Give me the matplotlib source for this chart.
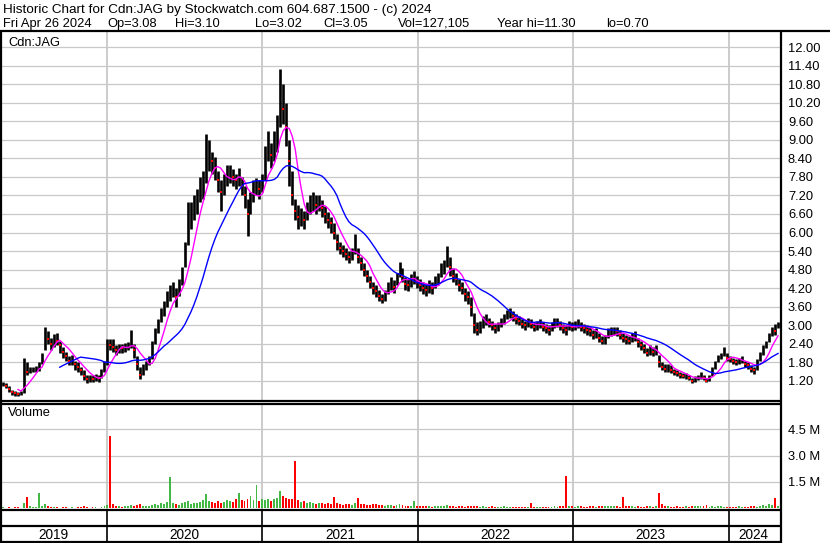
import matplotlib
matplotlib.use("Agg")
import matplotlib.pyplot as plt
import matplotlib.dates as mdates
import numpy as np
import pandas as pd

plt.rcParams['font.family'] = ['Liberation Sans', 'DejaVu Sans']

# weekly closes / highs / lows (Cdn:JAG, Apr 2019 - Apr 2024)
close = [1.10, 1.05, 0.95, 0.85, 0.80, 0.78, 0.80, 1.60, 1.50, 1.55,
         1.55, 1.58, 1.70, 1.95, 2.70, 2.55, 2.40, 2.60, 2.50, 2.35,
         2.15, 2.00, 1.85, 1.90, 1.75, 1.65, 1.55, 1.35, 1.25, 1.30,
         1.25, 1.30, 1.28, 1.45, 1.70, 2.45, 2.35, 2.30, 2.20, 2.30,
         2.25, 2.30, 2.35, 2.60, 2.20, 1.75, 1.40, 1.60, 1.70, 1.85,
         2.30, 2.70, 3.00, 3.40, 3.60, 3.90, 4.10, 4.20, 3.90, 4.20,
         4.60, 5.30, 6.30, 6.60, 6.80, 7.00, 7.40, 7.60, 8.40, 8.70,
         8.30, 8.10, 7.70, 7.30, 7.60, 7.90, 8.00, 7.80, 7.70, 7.80,
         7.50, 7.20, 6.60, 7.00, 7.40, 7.50, 7.40, 7.60, 8.40, 8.80,
         8.50, 8.70, 9.20, 10.60, 10.00, 9.40, 8.30, 7.20, 6.70, 6.50,
         6.50, 6.40, 6.70, 6.90, 7.00, 6.90, 7.00, 6.80, 6.60, 6.40,
         6.30, 6.00, 5.70, 5.50, 5.40, 5.30, 5.20, 5.30, 5.60, 5.20,
         5.00, 4.80, 4.60, 4.40, 4.20, 4.10, 3.95, 3.85, 4.00, 4.20,
         4.35, 4.25, 4.50, 4.85, 4.60, 4.35, 4.30, 4.45, 4.55, 4.40,
         4.30, 4.20, 4.15, 4.25, 4.20, 4.40, 4.50, 4.80, 4.90, 5.20,
         4.90, 4.60, 4.50, 4.30, 4.20, 4.00, 3.90, 3.60, 3.00, 2.85,
         2.95, 3.10, 3.20, 3.10, 3.00, 2.90, 2.95, 3.10, 3.20, 3.35,
         3.40, 3.30, 3.20, 3.15, 3.05, 3.00, 3.10, 3.05, 2.95, 3.00,
         3.05, 2.95, 2.90, 2.85, 2.95, 3.05, 3.10, 3.00, 2.90, 2.85,
         3.00, 2.95, 3.00, 3.05, 2.95, 2.90, 2.85, 2.80, 2.70, 2.75,
         2.60, 2.50, 2.55, 2.75, 2.80, 2.85, 2.80, 2.70, 2.60, 2.55,
         2.50, 2.60, 2.65, 2.45, 2.35, 2.25, 2.10, 2.20, 2.15, 2.25,
         1.80, 1.65, 1.60, 1.65, 1.55, 1.50, 1.45, 1.40, 1.35, 1.35,
         1.30, 1.20, 1.25, 1.30, 1.35, 1.30, 1.20, 1.30, 1.55, 1.75,
         1.95, 2.00, 2.15, 1.95, 1.90, 1.85, 1.80, 1.85, 1.90, 1.75,
         1.70, 1.60, 1.55, 1.75, 2.05, 2.20, 2.40, 2.65, 2.85, 2.80,
         3.05]

high = [1.15, 1.12, 1.02, 0.92, 0.86, 0.84, 0.88, 1.95, 1.80, 1.65,
        1.65, 1.68, 1.80, 2.10, 2.95, 2.80, 2.60, 2.72, 2.75, 2.50,
        2.30, 2.15, 2.00, 2.05, 1.85, 1.80, 1.65, 1.55, 1.38, 1.40,
        1.38, 1.42, 1.38, 1.60, 1.85, 2.55, 2.55, 2.55, 2.35, 2.40,
        2.38, 2.42, 2.45, 2.85, 2.40, 2.00, 1.65, 1.75, 1.85, 2.00,
        2.50, 2.90, 3.20, 3.55, 3.80, 4.10, 4.30, 4.40, 4.20, 4.50,
        4.90, 5.70, 7.00, 7.00, 7.20, 7.40, 7.80, 8.00, 9.20, 9.00,
        8.60, 8.45, 8.00, 7.70, 7.90, 8.20, 8.20, 8.05, 7.90, 8.10,
        7.80, 7.50, 7.10, 7.30, 7.70, 7.75, 7.70, 7.90, 8.80, 9.30,
        8.90, 9.30, 9.80, 11.30, 10.80, 10.20, 9.00, 8.00, 7.10, 6.90,
        6.80, 6.70, 7.00, 7.20, 7.30, 7.20, 7.20, 7.05, 6.85, 6.65,
        6.50, 6.30, 5.95, 5.70, 5.60, 5.50, 5.40, 5.50, 5.95, 5.50,
        5.20, 5.00, 4.80, 4.60, 4.40, 4.30, 4.15, 4.00, 4.15, 4.40,
        4.55, 4.45, 4.70, 5.05, 4.85, 4.55, 4.50, 4.65, 4.75, 4.60,
        4.50, 4.40, 4.35, 4.45, 4.40, 4.60, 4.70, 5.00, 5.10, 5.55,
        5.20, 4.85, 4.70, 4.50, 4.40, 4.20, 4.10, 3.90, 3.40, 3.10,
        3.15, 3.30, 3.35, 3.25, 3.15, 3.05, 3.10, 3.25, 3.35, 3.50,
        3.55, 3.45, 3.35, 3.30, 3.20, 3.15, 3.25, 3.20, 3.10, 3.15,
        3.20, 3.10, 3.05, 3.00, 3.10, 3.25, 3.25, 3.15, 3.05, 3.00,
        3.15, 3.10, 3.15, 3.20, 3.10, 3.05, 3.00, 2.95, 2.85, 2.90,
        2.75, 2.65, 2.70, 2.90, 2.95, 2.95, 2.95, 2.85, 2.75, 2.70,
        2.65, 2.75, 2.80, 2.60, 2.50, 2.40, 2.25, 2.35, 2.30, 2.35,
        2.05, 1.80, 1.75, 1.75, 1.70, 1.60, 1.55, 1.50, 1.45, 1.45,
        1.40, 1.30, 1.35, 1.40, 1.50, 1.40, 1.30, 1.40, 1.65, 1.85,
        2.05, 2.10, 2.30, 2.10, 2.00, 1.95, 1.90, 1.95, 2.00, 1.85,
        1.80, 1.70, 1.65, 1.90, 2.15, 2.35, 2.50, 2.75, 2.95, 3.05,
        3.12]

low = [1.02, 0.98, 0.85, 0.76, 0.72, 0.70, 0.74, 0.82, 1.40, 1.45,
       1.48, 1.50, 1.52, 1.75, 2.20, 2.40, 2.20, 2.30, 2.35, 2.10,
       1.95, 1.85, 1.70, 1.72, 1.55, 1.50, 1.40, 1.22, 1.12, 1.15,
       1.15, 1.20, 1.18, 1.30, 1.50, 1.70, 2.20, 2.15, 2.05, 2.10,
       2.10, 2.15, 2.20, 2.25, 1.95, 1.55, 1.25, 1.40, 1.55, 1.70,
       1.90, 2.40, 2.75, 3.10, 3.30, 3.60, 3.80, 3.90, 3.60, 3.95,
       4.30, 4.90, 5.60, 6.10, 6.40, 6.60, 7.00, 7.10, 7.60, 8.00,
       7.90, 7.70, 7.30, 6.70, 7.20, 7.50, 7.60, 7.50, 7.40, 7.50,
       7.20, 6.80, 5.90, 6.60, 7.00, 7.20, 7.10, 7.30, 7.70, 8.30,
       8.10, 8.30, 8.60, 9.40, 9.50, 8.80, 7.50, 6.90, 6.40, 6.10,
       6.20, 6.10, 6.40, 6.60, 6.70, 6.60, 6.70, 6.50, 6.30, 6.15,
       6.00, 5.80, 5.45, 5.30, 5.20, 5.10, 5.00, 5.10, 5.30, 5.00,
       4.80, 4.60, 4.40, 4.20, 4.00, 3.90, 3.80, 3.72, 3.80, 4.00,
       4.15, 4.05, 4.30, 4.55, 4.40, 4.15, 4.10, 4.25, 4.35, 4.20,
       4.10, 4.00, 3.95, 4.05, 4.00, 4.20, 4.30, 4.55, 4.65, 4.90,
       4.60, 4.40, 4.30, 4.10, 4.00, 3.80, 3.70, 3.30, 2.75, 2.70,
       2.75, 2.90, 3.00, 2.95, 2.85, 2.75, 2.80, 2.95, 3.05, 3.20,
       3.25, 3.15, 3.05, 3.00, 2.90, 2.85, 2.95, 2.90, 2.80, 2.85,
       2.90, 2.80, 2.75, 2.70, 2.80, 2.90, 2.95, 2.85, 2.75, 2.70,
       2.85, 2.80, 2.85, 2.90, 2.80, 2.75, 2.70, 2.65, 2.55, 2.60,
       2.45, 2.40, 2.40, 2.60, 2.65, 2.70, 2.65, 2.55, 2.45, 2.40,
       2.40, 2.45, 2.50, 2.30, 2.20, 2.10, 2.00, 2.05, 2.00, 2.05,
       1.65, 1.55, 1.50, 1.50, 1.45, 1.40, 1.35, 1.30, 1.28, 1.25,
       1.22, 1.12, 1.18, 1.22, 1.25, 1.22, 1.15, 1.20, 1.35, 1.60,
       1.80, 1.90, 2.00, 1.85, 1.80, 1.75, 1.70, 1.75, 1.78, 1.65,
       1.60, 1.50, 1.42, 1.55, 1.85, 2.05, 2.25, 2.45, 2.65, 2.70,
       2.90]

# visible daily volume peak per week, millions
volume = [0.06, 0.04, 0.05, 0.03, 0.08, 0.05, 0.04, 0.30, 0.64, 0.12,
          0.06, 0.08, 0.87, 0.15, 0.25, 0.10, 0.06, 0.05, 0.08, 0.04,
          0.05, 0.06, 0.04, 0.05, 0.03, 0.06, 0.08, 0.12, 0.05, 0.04,
          0.06, 0.05, 0.04, 0.08, 0.10, 0.20, 4.10, 0.25, 0.15, 0.10,
          0.08, 0.12, 0.10, 0.20, 0.15, 0.18, 0.22, 0.12, 0.15, 0.10,
          0.20, 0.25, 0.18, 0.30, 0.22, 0.35, 1.80, 0.30, 0.25, 0.20,
          0.30, 0.35, 0.40, 0.25, 0.30, 0.28, 0.35, 0.45, 0.80, 0.40,
          0.35, 0.30, 0.40, 0.30, 0.35, 0.45, 0.40, 0.35, 0.50, 0.87,
          0.45, 0.40, 0.55, 0.68, 0.45, 1.33, 0.40, 0.50, 0.45, 0.55,
          0.40, 0.50, 0.60, 0.97, 0.70, 0.60, 0.55, 0.50, 2.67, 0.45,
          0.35, 0.40, 0.30, 0.35, 0.30, 0.25, 0.30, 0.28, 0.25, 0.30,
          0.25, 0.64, 0.30, 0.25, 0.20, 0.22, 0.25, 0.20, 0.30, 0.58,
          0.22, 0.25, 0.20, 0.18, 0.22, 0.25, 0.20, 0.18, 0.15, 0.20,
          0.18, 0.15, 0.20, 0.22, 0.18, 0.15, 0.12, 0.15, 0.40, 0.15,
          0.12, 0.10, 0.12, 0.10, 0.08, 0.12, 0.10, 0.15, 0.12, 0.18,
          0.12, 0.10, 0.08, 0.10, 0.12, 0.08, 0.10, 0.12, 0.15, 0.10,
          0.08, 0.10, 0.07, 0.08, 0.10, 0.06, 0.08, 0.07, 0.10, 0.06,
          0.08, 0.07, 0.06, 0.05, 0.08, 0.06, 0.07, 0.30, 0.08, 0.06,
          0.07, 0.05, 0.08, 0.06, 0.07, 0.10, 0.08, 0.12, 0.15, 1.86,
          0.15, 0.10, 0.08, 0.12, 0.10, 0.08, 0.07, 0.10, 0.12, 0.08,
          0.10, 0.15, 0.12, 0.10, 0.12, 0.15, 0.10, 0.08, 0.64, 0.15,
          0.12, 0.10, 0.08, 0.10, 0.07, 0.08, 0.10, 0.12, 0.08, 0.10,
          0.87, 0.25, 0.12, 0.10, 0.08, 0.07, 0.10, 0.08, 0.06, 0.10,
          0.08, 0.12, 0.10, 0.15, 0.10, 0.12, 0.20, 0.08, 0.10, 0.07,
          0.12, 0.10, 0.08, 0.07, 0.06, 0.05, 0.08, 0.10, 0.06, 0.08,
          0.07, 0.10, 0.12, 0.08, 0.15, 0.20, 0.12, 0.25, 0.18, 0.58,
          0.15]

price_ticks = [1.20, 1.80, 2.40, 3.00, 3.60, 4.20, 4.80, 5.40, 6.00, 6.60, 7.20,
               7.80, 8.40, 9.00, 9.60, 10.20, 10.80, 11.40, 12.00]
vol_ticks = [1.5, 3.0, 4.5]
years = [2019, 2020, 2021, 2022, 2023, 2024]

header1 = "Historic Chart for Cdn:JAG by Stockwatch.com 604.687.1500 - (c) 2024"
header2 = ["Fri Apr 26 2024", "Op=3.08", "Hi=3.10", "Lo=3.02", "Cl=3.05",
           "Vol=127,105", "Year hi=11.30", "lo=0.70"]
header2_x = [3, 107, 175, 255, 323, 398, 497, 606]

weeks = pd.date_range(end="2024-04-26", periods=len(close), freq="7D")
x = mdates.date2num(weeks.to_pydatetime())
df = pd.DataFrame({"close": close, "high": high, "low": low, "vol": volume}, index=x)
ma_fast = df["close"].rolling(6).mean()
ma_slow = df["close"].rolling(20).mean()
down = df["close"].diff() < 0

W, H = 830, 543
fig = plt.figure(figsize=(W / 100, H / 100), dpi=100)


def box(left, top, right, bottom):
    return [left / W, 1 - bottom / H, (right - left) / W, (bottom - top) / H]


xmin = mdates.date2num(pd.Timestamp("2019-04-28"))
xmax = mdates.date2num(pd.Timestamp("2024-05-03"))
year_x = [mdates.date2num(pd.Timestamp(f"{y}-01-01")) for y in years[1:]]
grid_c = "#c8c8c8"
fs = 9.3

# price panel
ax = fig.add_axes(box(1, 31, 781, 401))
ax.set_xlim(xmin, xmax)
ax.set_ylim(0.55, 12.52)
for t in price_ticks:
    ax.axhline(t, color=grid_c, lw=0.9, zorder=0)
for yx in year_x:
    ax.axvline(yx, color=grid_c, lw=1.3, zorder=0)
ax.vlines(df.index, df["low"], df["high"], color="black", lw=1.9, zorder=2)
ax.plot(df.index[down], df["close"][down], ls="none", marker="s", ms=2.0,
        color="red", mew=0, zorder=3)
ax.plot(df.index, ma_fast, color="#ff00ff", lw=1.0, zorder=4)
ax.plot(df.index, ma_slow, color="#0000ff", lw=1.0, zorder=4)
ax.yaxis.tick_right()
ax.set_yticks(price_ticks)
ax.set_yticklabels([f"{t:.2f}" for t in price_ticks], fontsize=fs)
ax.tick_params(axis="y", length=0, pad=5)
ax.set_xticks([])
for s in ax.spines.values():
    s.set_visible(False)

# volume panel
av = fig.add_axes(box(1, 403, 781, 510))
av.set_xlim(xmin, xmax)
av.set_ylim(-0.1, 6.0)
for t in vol_ticks:
    av.axhline(t, color=grid_c, lw=0.9, zorder=0)
for yx in year_x:
    av.axvline(yx, color=grid_c, lw=1.3, zorder=0)
colors = np.where(down, "#ff0000", "#44b844")
av.bar(df.index, df["vol"], width=4.5, color=colors, zorder=2)
av.yaxis.tick_right()
av.set_yticks(vol_ticks)
av.set_yticklabels([f"{t:.1f} M" for t in vol_ticks], fontsize=fs)
av.tick_params(axis="y", length=0, pad=5)
av.set_xticks([])
for s in av.spines.values():
    s.set_visible(False)

# year strip
ay = fig.add_axes(box(1, 510, 781, 542))
ay.set_xlim(xmin, xmax)
ay.set_ylim(0, 2)
ay.axhline(1, color="black", lw=1.6)
for yx in year_x:
    ay.axvline(yx, color="black", lw=1.2)
edges = [xmin] + year_x + [mdates.date2num(pd.Timestamp("2024-04-26"))]
for i, yr in enumerate(years):
    ay.text((edges[i] + edges[i + 1]) / 2, 0.45, str(yr), ha="center", va="center",
            fontsize=9.8)
ay.axis("off")

# frame and header drawn in pixel space
ov = fig.add_axes([0, 0, 1, 1], zorder=10)
ov.set_xlim(0, W)
ov.set_ylim(H, 0)
ov.axis("off")
ov.patch.set_alpha(0)
lk = dict(color="black", lw=1.6, solid_capstyle="butt")
ov.plot([0, W], [31, 31], **lk)
ov.plot([1, 1], [31, 542], **lk)
ov.plot([781, 781], [31, H], **lk)
ov.plot([0, 781], [401, 401], **lk)
ov.plot([0, 781], [404, 404], **lk)
ov.plot([0, 781], [510, 510], **lk)
ov.plot([0, 781], [541.5, 541.5], **lk)
ov.text(3, 13, header1, fontsize=9.7, va="baseline")
for hx, ht in zip(header2_x, header2):
    ov.text(hx, 27, ht, fontsize=fs, va="baseline")
ov.text(8, 43, "Cdn:JAG", fontsize=fs, va="center")
ov.text(8, 413, "Volume", fontsize=fs, va="center")

fig.savefig("out.png", dpi=100)
